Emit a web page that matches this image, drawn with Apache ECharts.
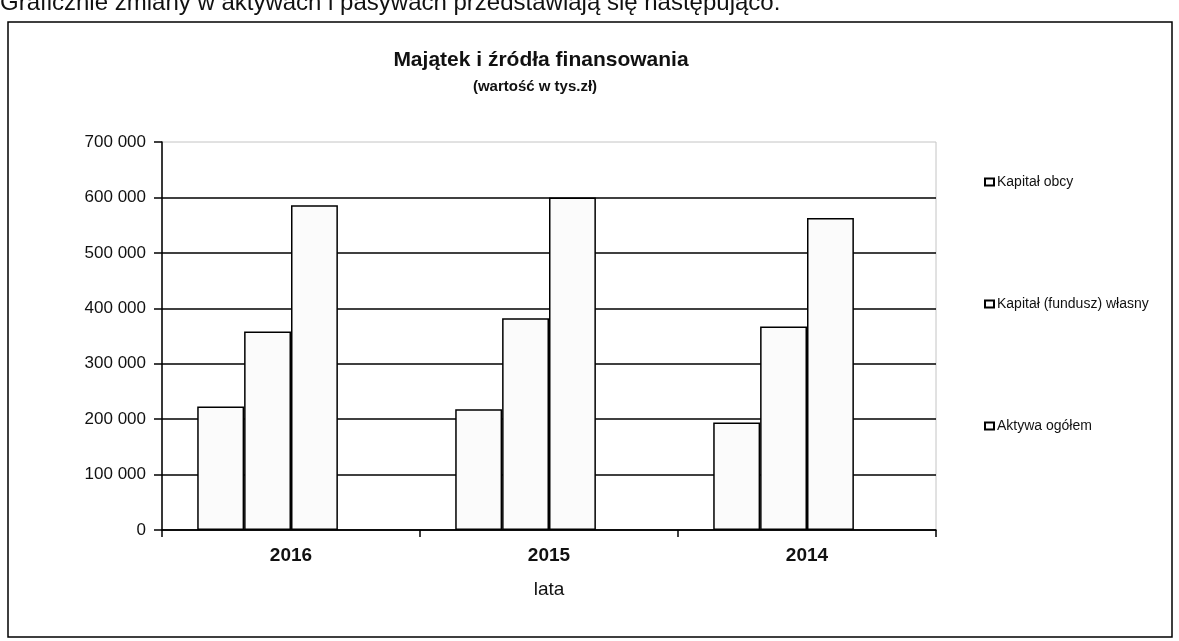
<!DOCTYPE html>
<html>
<head>
<meta charset="utf-8">
<script src="https://cdn.jsdelivr.net/npm/echarts@6/dist/echarts.min.js"></script>
<style>
  html, body { margin: 0; padding: 0; background: #fff; }
  #myChart { width: 1179px; height: 641px; }
</style>
</head>
<body>
<div id="myChart"></div>
<script>
// lata
var years = ['2016', '2015', '2014'];
// wartości w zł
var kapitalObcy = [223000, 218000, 194000];
var kapitalWlasny = [358000, 382000, 367000];
var aktywaOgolem = [586000, 600000, 563000];
// pusta seria (w oryginale zajmuje czwarte miejsce w grupie)
var pusta = [null, null, null];
var yTicks = [0, 100000, 200000, 300000, 400000, 500000, 600000, 700000];

var myChart = echarts.init(document.getElementById('myChart'));

var barStyle = {
  color: '#fbfbfb',
  borderColor: '#000',
  borderWidth: 1.5
};

function fmt(v) {
  return String(v).replace(/\B(?=(\d{3})+(?!\d))/g, ' ');
}

myChart.setOption({
  animation: false,
  textStyle: { fontFamily: 'Liberation Sans, Arial, sans-serif', color: '#000' },
  graphic: [
    {
      type: 'text', left: 0, top: -9,
      style: { text: 'Graficznie zmiany w aktywach i pasywach przedstawiają się następująco:', font: '24px "Liberation Sans", Arial', fill: '#111' }
    },
    {
      type: 'rect', shape: { x: 8, y: 22, width: 1164, height: 615 },
      style: { fill: 'none', stroke: '#000', lineWidth: 1.5 }
    },
    {
      type: 'text', x: 541, y: 60,
      style: { text: 'Majątek i źródła finansowania', font: 'bold 21px "Liberation Sans", Arial', fill: '#111', align: 'center', verticalAlign: 'middle' }
    },
    {
      type: 'text', x: 535, y: 87,
      style: { text: '(wartość w tys.zł)', font: 'bold 15px "Liberation Sans", Arial', fill: '#111', align: 'center', verticalAlign: 'middle' }
    }
  ],
  legend: {
    orient: 'vertical',
    left: 984,
    top: 175,
    itemGap: 108,
    itemWidth: 9,
    itemHeight: 7,
    padding: 0,
    icon: 'rect',
    data: ['Kapitał obcy', 'Kapitał (fundusz) własny', 'Aktywa ogółem'],
    textStyle: { fontSize: 14, color: '#111', padding: [0, 0, 0, -2] }
  },
  grid: {
    left: 162,
    top: 142,
    width: 774,
    height: 388,
    show: true,
    borderColor: '#c4c4c4',
    borderWidth: 1
  },
  xAxis: {
    type: 'category',
    data: years,
    name: 'lata',
    nameLocation: 'middle',
    nameGap: 50,
    nameTextStyle: { fontSize: 19, color: '#111' },
    axisLine: { lineStyle: { color: '#000', width: 1.5 } },
    axisTick: { show: true, length: 7, lineStyle: { color: '#000', width: 1.5 } },
    axisLabel: { fontSize: 19, fontWeight: 'bold', color: '#111', margin: 16 }
  },
  yAxis: {
    type: 'value',
    min: yTicks[0],
    max: yTicks[yTicks.length - 1],
    interval: 100000,
    axisLine: { show: true, lineStyle: { color: '#000', width: 1.5 } },
    axisTick: { show: true, length: 8, lineStyle: { color: '#000', width: 1.5 } },
    axisLabel: { fontSize: 17, color: '#111', margin: 16, formatter: fmt },
    splitLine: { show: true, showMaxLine: false, lineStyle: { color: '#000', width: 1.5 } }
  },
  series: [
    { name: 'Kapitał obcy', type: 'bar', data: kapitalObcy, barGap: 0, barCategoryGap: '27.3%', itemStyle: barStyle },
    { name: 'Kapitał (fundusz) własny', type: 'bar', data: kapitalWlasny, itemStyle: barStyle },
    { name: 'Aktywa ogółem', type: 'bar', data: aktywaOgolem, itemStyle: barStyle },
    { name: '', type: 'bar', data: pusta, itemStyle: barStyle }
  ]
});
</script>
</body>
</html>
